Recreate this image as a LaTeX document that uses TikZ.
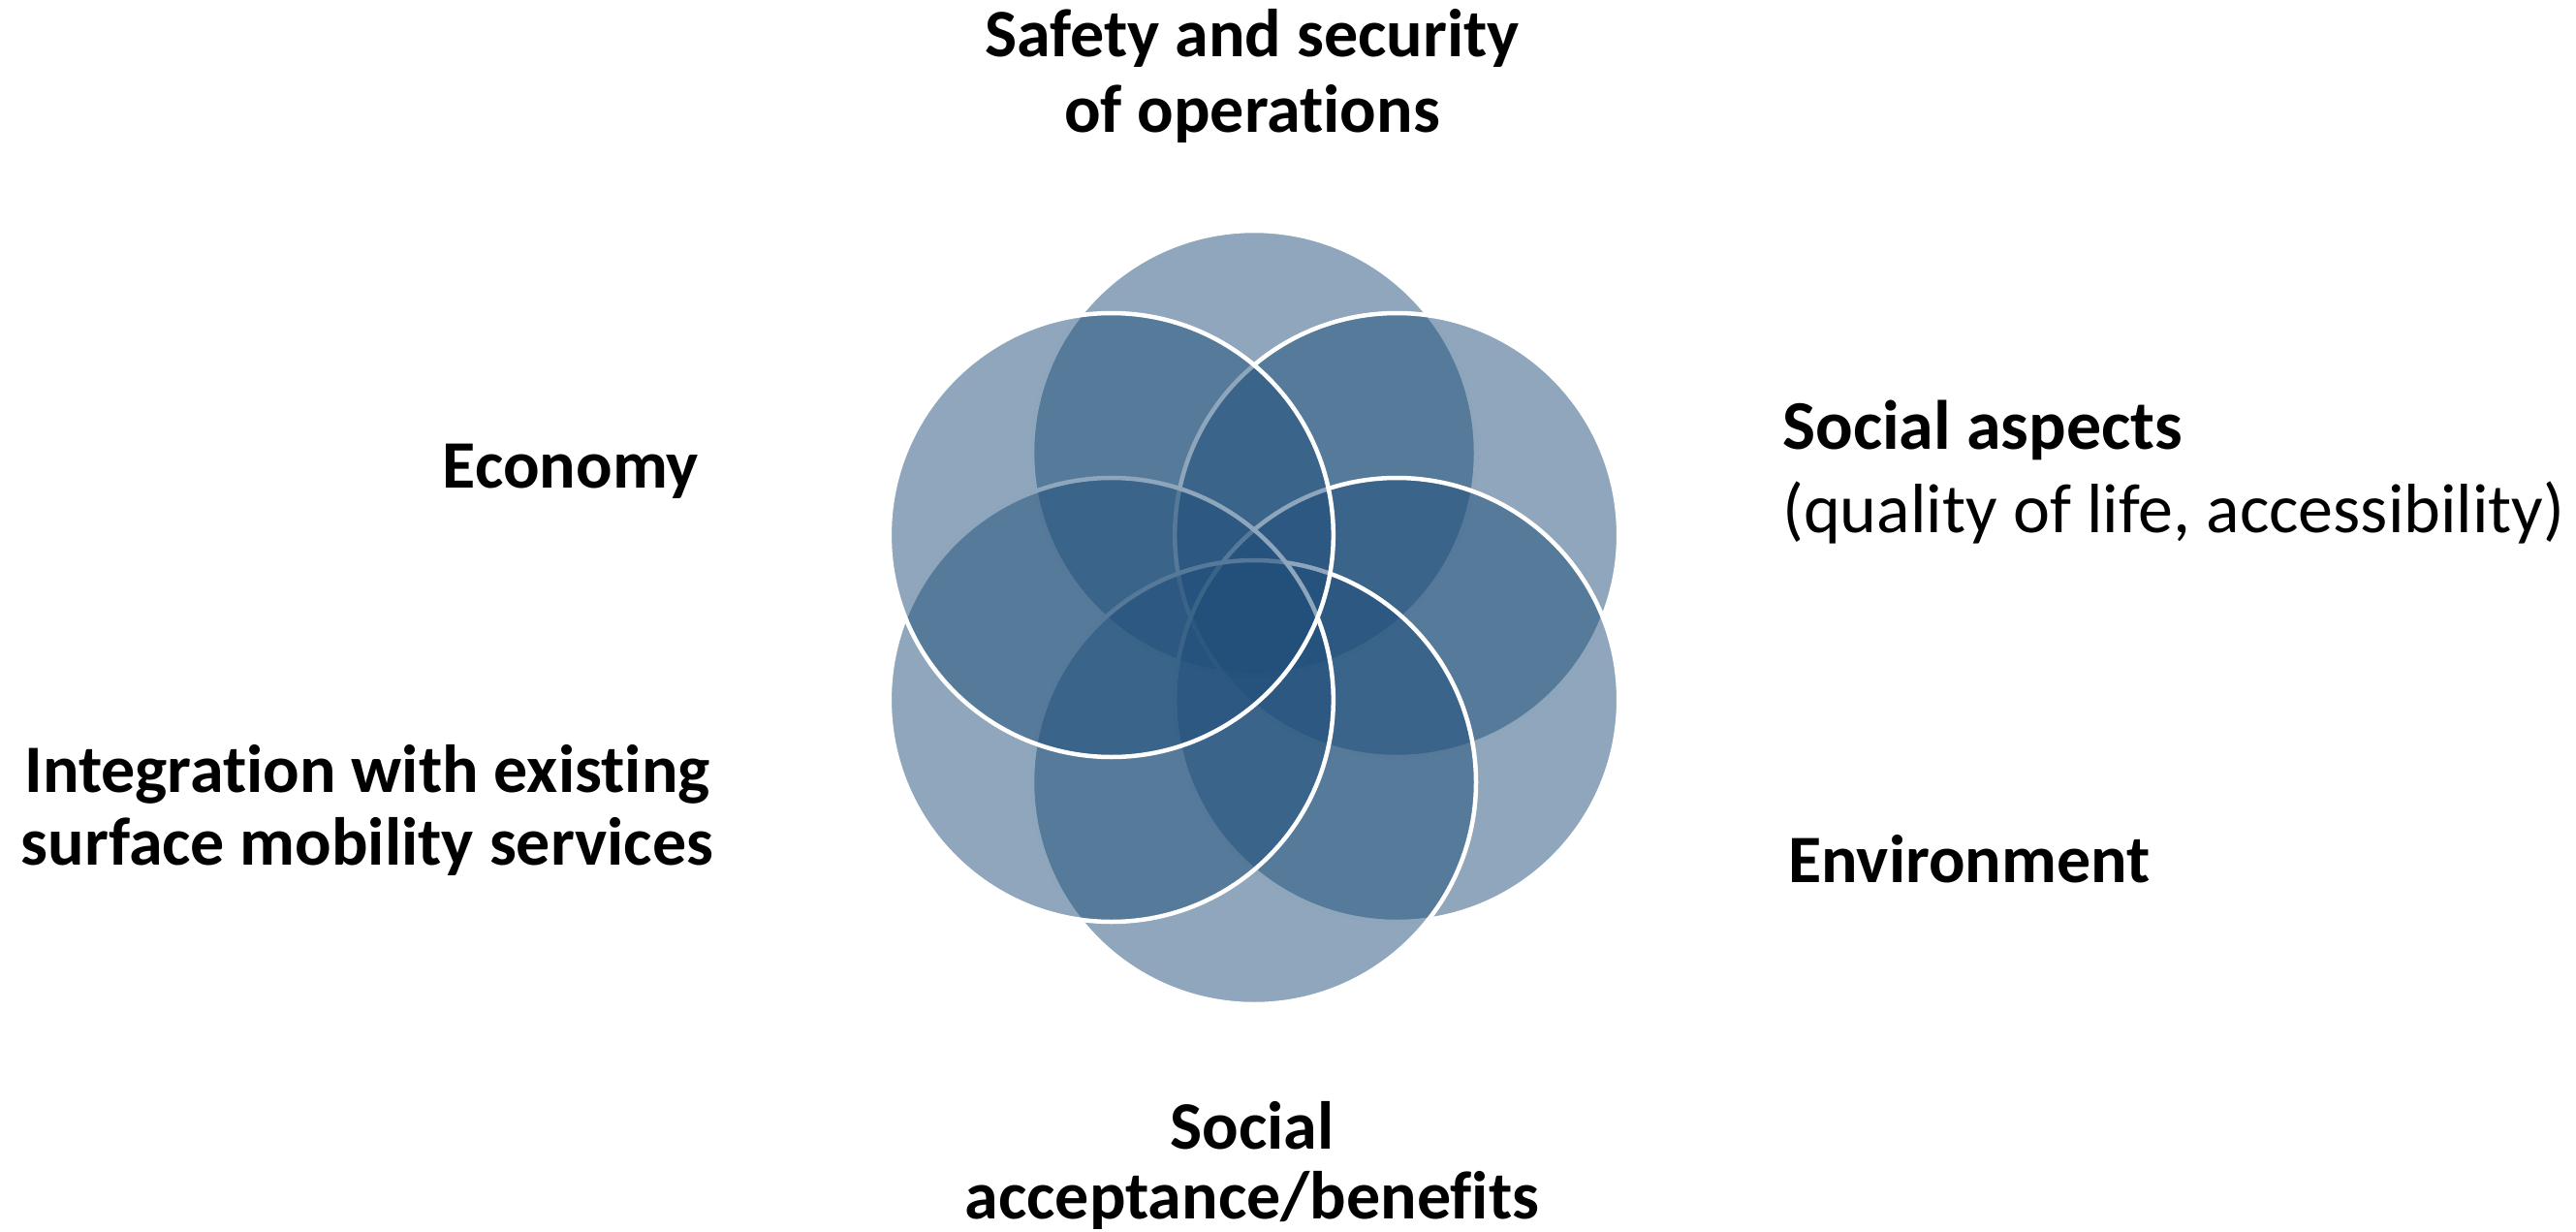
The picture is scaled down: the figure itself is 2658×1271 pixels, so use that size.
\documentclass[tikz,border=0pt]{standalone}
\usepackage{fontspec}
\setmainfont{Carlito}[Ligatures={NoCommon,NoContextual}]
\definecolor{petalblue}{HTML}{1F4E79}
\begin{document}
\begin{tikzpicture}[x=1pt,y=-1pt,
  petal/.style={circle, minimum size=458pt, inner sep=0pt, fill=petalblue, fill opacity=0.5, draw=white, draw opacity=1, line width=4.5pt},
  lab/.style={inner sep=0pt, font=\fontsize{70}{80}\selectfont\bfseries},
  labbig/.style={inner sep=0pt, font=\fontsize{72}{80}\selectfont\bfseries},
  labr/.style={inner sep=0pt, font=\fontsize{72}{80}\selectfont}]
\useasboundingbox (0,0) rectangle (2658,1271);
% petals, drawn in order so later fills veil earlier outlines
\node[petal] (ptop) at (1294,467) {};
\node[petal] (pur)  at (1441.2,552) {};
\node[petal] (plr)  at (1441.2,722) {};
\node[petal] (pbot) at (1294,807) {};
\node[petal] (pll)  at (1146.8,722) {};
\node[petal] (pul)  at (1146.8,552) {};
% labels
\node[lab, anchor=base] (s1) at (1292,59) {Safety and security};
\node[lab, anchor=base] (s2) at (1292,136) {of operations};
\node[lab, anchor=base east] (eco) at (721,503) {Economy};
\node[labbig, anchor=base west] (sa1) at (1839,463) {Social aspects};
\node[labr, anchor=base west] (sa2) at (1839,549) {(quality of life, accessibility)};
\node[lab, anchor=base] (i1) at (379,817) {Integration with existing};
\node[lab, anchor=base] (i2) at (379,892) {surface mobility services};
\node[lab, anchor=base west] (env) at (1845,910) {Environment};
\node[lab, anchor=base] (sb1) at (1292,1185) {Social};
\node[lab, anchor=base] (sb2) at (1292,1257) {acceptance/benefits};
\end{tikzpicture}
\end{document}
